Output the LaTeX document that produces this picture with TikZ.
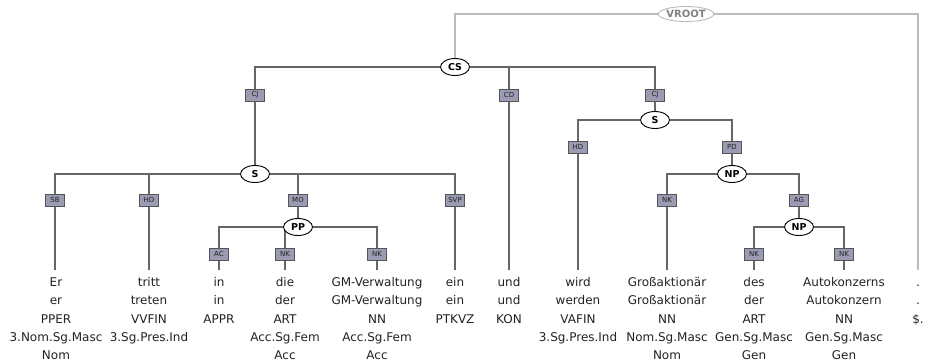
\documentclass[tikz,border=0pt]{standalone}
\usepackage{fontspec}
\setmainfont{DejaVu Sans}
\usetikzlibrary{shapes.geometric,backgrounds}
\definecolor{edgecol}{HTML}{666666}
\definecolor{rootcol}{HTML}{BBBBBB}
\definecolor{labfill}{HTML}{9B9BB4}
\definecolor{labdraw}{HTML}{555555}
\definecolor{txtcol}{HTML}{222222}
\begin{document}
\begin{tikzpicture}[x=1pt,y=-1pt,
  cat/.style={ellipse,draw=black,fill=white,line width=0.9pt,inner sep=0pt,minimum width=29pt,minimum height=17pt,font=\fontsize{9.5}{10}\selectfont\bfseries},
  rootnode/.style={ellipse,draw=rootcol,fill=white,line width=0.9pt,inner sep=0pt,minimum width=50pt,minimum height=15pt,text=gray,font=\fontsize{10}{10}\selectfont\bfseries},
  lab/.style={rectangle,draw=labdraw,fill=labfill,line width=0.7pt,inner sep=0pt,minimum width=19pt,minimum height=12pt,text=txtcol,font=\fontsize{7}{8}\selectfont},
  term/.style={anchor=north,inner sep=0pt,align=center,text=txtcol,font=\fontsize{12}{18.4}\selectfont},
  tedge/.style={draw=edgecol,line width=1.3pt},
  redge/.style={draw=rootcol,line width=1.3pt}]
\useasboundingbox (0,0) rectangle (925,362);
% category nodes
\node[rootnode] (vroot) at (686,14) {VROOT};
\node[cat] (cs) at (455,67) {CS};
\node[cat] (s1) at (255,174) {S};
\node[cat] (s2) at (655,120) {S};
\node[cat] (np1) at (732,174) {NP};
\node[cat] (pp) at (298,227) {PP};
\node[cat] (np2) at (799,227) {NP};
% edge labels
\node[lab] (lcj1) at (255,95) {CJ};
\node[lab] (lcd) at (509,95) {CD};
\node[lab] (lcj2) at (655,95) {CJ};
\node[lab] (lsb) at (55,200) {SB};
\node[lab] (lhd1) at (149,200) {HD};
\node[lab] (lmo) at (298,200) {MO};
\node[lab] (lsvp) at (455,200) {SVP};
\node[lab] (lhd2) at (578,147) {HD};
\node[lab] (lpd) at (732,147) {PD};
\node[lab] (lnk1) at (667,200) {NK};
\node[lab] (lag) at (799,200) {AG};
\node[lab] (lac) at (219,254) {AC};
\node[lab] (lnk2) at (285,254) {NK};
\node[lab] (lnk3) at (377,254) {NK};
\node[lab] (lnk4) at (754,254) {NK};
\node[lab] (lnk5) at (844,254) {NK};
% terminals
\node[term] (t1) at (56,270) {\rule{0pt}{16pt}Er\\er\\PPER\\3.Nom.Sg.Masc\\Nom};
\node[term] (t2) at (149,270) {\rule{0pt}{16pt}tritt\\treten\\VVFIN\\3.Sg.Pres.Ind};
\node[term] (t3) at (219,270) {\rule{0pt}{16pt}in\\in\\APPR};
\node[term] (t4) at (285,270) {\rule{0pt}{16pt}die\\der\\ART\\Acc.Sg.Fem\\Acc};
\node[term] (t5) at (377,270) {\rule{0pt}{16pt}GM-Verwaltung\\GM-Verwaltung\\NN\\Acc.Sg.Fem\\Acc};
\node[term] (t6) at (455,270) {\rule{0pt}{16pt}ein\\ein\\PTKVZ};
\node[term] (t7) at (509,270) {\rule{0pt}{16pt}und\\und\\KON};
\node[term] (t8) at (578,270) {\rule{0pt}{16pt}wird\\werden\\VAFIN\\3.Sg.Pres.Ind};
\node[term] (t9) at (667,270) {\rule{0pt}{16pt}Großaktionär\\Großaktionär\\NN\\Nom.Sg.Masc\\Nom};
\node[term] (t10) at (754,270) {\rule{0pt}{16pt}des\\der\\ART\\Gen.Sg.Masc\\Gen};
\node[term] (t11) at (844,270) {\rule{0pt}{16pt}Autokonzerns\\Autokonzern\\NN\\Gen.Sg.Masc\\Gen};
\node[term] (t12) at (918,270) {\rule{0pt}{16pt}.\\.\\\$.};
% edges
\begin{scope}[on background layer]
\draw[redge] (vroot) -| (cs);
\draw[redge] (vroot) -| (t12.north);
\draw[tedge] (cs) -| (lcj1); \draw[tedge] (lcj1) -- (s1);
\draw[tedge] (cs) -| (lcd); \draw[tedge] (lcd) -- (t7.north);
\draw[tedge] (cs) -| (lcj2); \draw[tedge] (lcj2) -- (s2);
\draw[tedge] (s1) -| (lsb); \draw[tedge] (lsb) -- (lsb |- t1.north);
\draw[tedge] (s1) -| (lhd1); \draw[tedge] (lhd1) -- (t2.north);
\draw[tedge] (s1) -| (lmo); \draw[tedge] (lmo) -- (pp);
\draw[tedge] (s1) -| (lsvp); \draw[tedge] (lsvp) -- (t6.north);
\draw[tedge] (pp) -| (lac); \draw[tedge] (lac) -- (t3.north);
\draw[tedge] (pp.center) -| (lnk2); \draw[tedge] (lnk2) -- (t4.north);
\draw[tedge] (pp) -| (lnk3); \draw[tedge] (lnk3) -- (t5.north);
\draw[tedge] (s2) -| (lhd2); \draw[tedge] (lhd2) -- (t8.north);
\draw[tedge] (s2) -| (lpd); \draw[tedge] (lpd) -- (np1);
\draw[tedge] (np1) -| (lnk1); \draw[tedge] (lnk1) -- (t9.north);
\draw[tedge] (np1) -| (lag); \draw[tedge] (lag) -- (np2);
\draw[tedge] (np2) -| (lnk4); \draw[tedge] (lnk4) -- (t10.north);
\draw[tedge] (np2) -| (lnk5); \draw[tedge] (lnk5) -- (t11.north);
\end{scope}
\end{tikzpicture}
\end{document}
